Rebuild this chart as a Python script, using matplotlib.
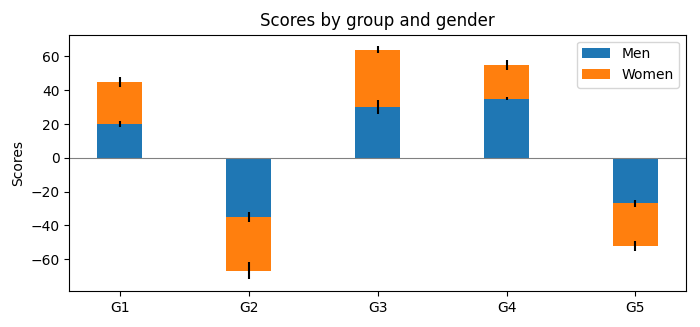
import matplotlib
matplotlib.use("Agg")
import matplotlib.pyplot as plt
import numpy as np

labels = ['G1', 'G2', 'G3', 'G4', 'G5']
men_means = [20, -35, 30, 35, -27]
women_means = [25, -32, 34, 20, -25]
men_std = [2, 3, 4, 1, 2]
women_std = [3, 5, 2, 3, 3]
width = 0.35

fig = plt.figure(figsize=(7, 3.27), dpi=100)
ax = fig.add_axes([0.099, 0.11, 0.881, 0.784])

ax.axhline(0, color='grey', linewidth=0.8)
ax.bar(labels, men_means, width, yerr=men_std, label='Men')
ax.bar(labels, women_means, width, yerr=women_std, bottom=men_means, label='Women')

ax.set_ylabel('Scores')
ax.set_title('Scores by group and gender')
ax.legend()

fig.savefig('out.png', dpi=100)
